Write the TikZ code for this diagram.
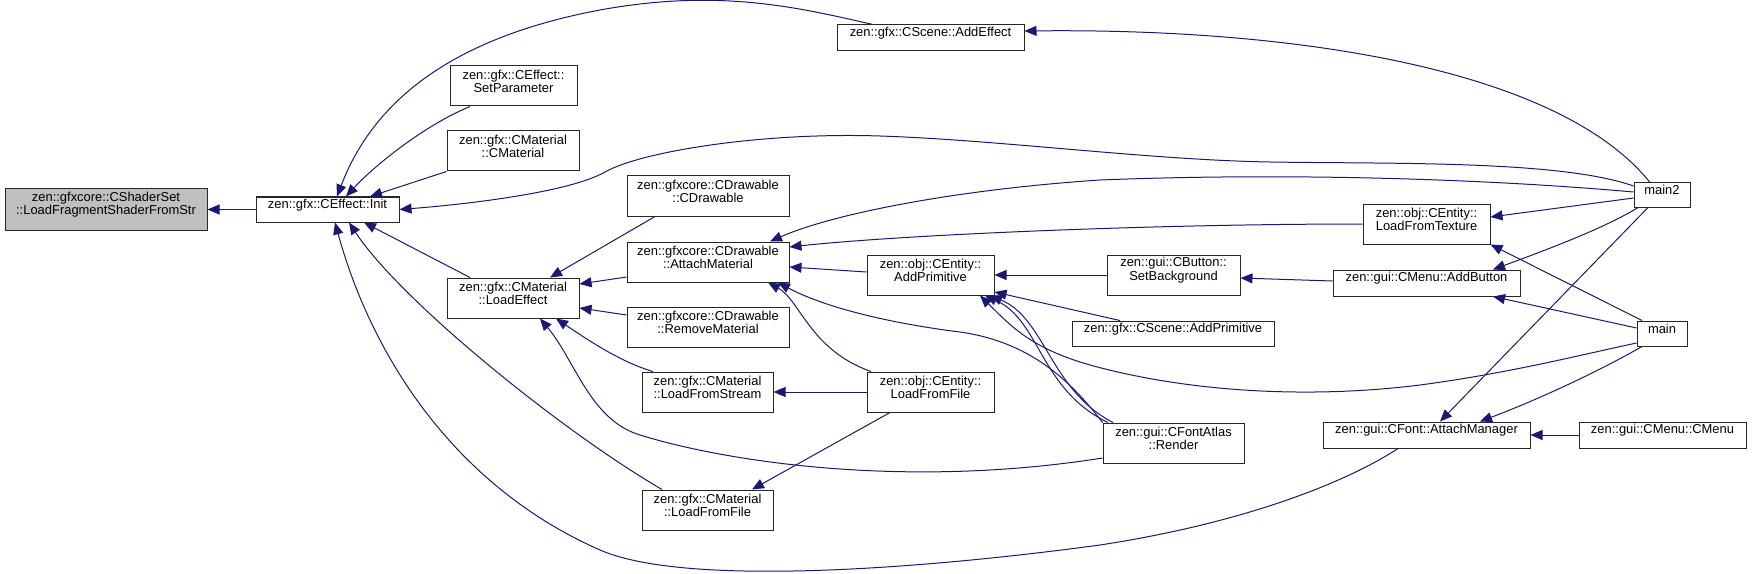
\documentclass[tikz,border=0pt]{standalone}
\usepackage{fontspec}
\setmainfont{Liberation Sans}
\usetikzlibrary{arrows.meta,fit}
\definecolor{edgecol}{RGB}{25,25,112}
\definecolor{shadefill}{RGB}{191,191,191}
\tikzset{
  box/.style={draw=black!85, line width=0.75pt, fill=white, inner sep=0pt, align=center, font=\fontsize{9.7}{10}\selectfont},
  edge/.style={draw=edgecol, line width=0.75pt, {Triangle[length=9pt,width=7.5pt]}-},
}
\begin{document}
\begin{tikzpicture}[x=0.75pt, y=-0.75pt]
\useasboundingbox (0,0) rectangle (1752,574);
% nodes
\node[box, fill=shadefill, align=left, fit={(5,189)(207,230)}] (shader) {zen::gfxcore::CShaderSet\\::LoadFragmentShaderFromStr};
\node[box, fit={(256,197)(399,222)}] (init) {zen::gfx::CEffect::Init};
\node[box, fit={(837,25)(1024,51)}] (addeffect) {zen::gfx::CScene::AddEffect};
\node[box, fit={(450,66)(577,106)}] (setparam) {zen::gfx::CEffect::\\SetParameter};
\node[box, fit={(447,131)(579,171)}] (cmaterial) {zen::gfx::CMaterial\\::CMaterial};
\node[box, fit={(447,278)(579,318)}] (loadeffect) {zen::gfx::CMaterial\\::LoadEffect};
\node[box, fit={(627,176)(789,216)}] (cdrawable) {zen::gfxcore::CDrawable\\::CDrawable};
\node[box, fit={(627,242)(789,282)}] (attach) {zen::gfxcore::CDrawable\\::AttachMaterial};
\node[box, fit={(627,307)(789,347)}] (remove) {zen::gfxcore::CDrawable\\::RemoveMaterial};
\node[box, fit={(642,372)(773,412)}] (lfstream) {zen::gfx::CMaterial\\::LoadFromStream};
\node[box, fit={(642,490)(773,530)}] (mlfile) {zen::gfx::CMaterial\\::LoadFromFile};
\node[box, fit={(867,255)(994,295)}] (addprim) {zen::obj::CEntity::\\AddPrimitive};
\node[box, fit={(867,372)(994,412)}] (elfile) {zen::obj::CEntity::\\LoadFromFile};
\node[box, fit={(1107,255)(1240,295)}] (setbg) {zen::gui::CButton::\\SetBackground};
\node[box, fit={(1072,321)(1274,346)}] (saddprim) {zen::gfx::CScene::AddPrimitive};
\node[box, fit={(1103,423)(1244,463)}] (render) {zen::gui::CFontAtlas\\::Render};
\node[box, fit={(1363,204)(1490,244)}] (lftex) {zen::obj::CEntity::\\LoadFromTexture};
\node[box, fit={(1333,270)(1520,296)}] (addbtn) {zen::gui::CMenu::AddButton};
\node[box, fit={(1323,422)(1530,448)}] (attmgr) {zen::gui::CFont::AttachManager};
\node[box, fit={(1579,422)(1746,448)}] (cmenu) {zen::gui::CMenu::CMenu};
\node[box, fit={(1634,183)(1690,207)}] (main2) {main2};
\node[box, fit={(1637,321)(1687,346)}] (main) {main};
% edges
\draw[edge] (shader.east) -- (init.west);
\draw[edge] (init.north -| 337,0) .. controls (370,110) and (440,40) .. (600,10) .. controls (720,-12) and (800,8) .. (addeffect.north -| 873,0);
\draw[edge] (init.north -| 346,0) .. controls (375,165) and (425,125) .. (setparam.south -| 470,0);
\draw[edge] (init.north -| 370,0) -- (cmaterial.south west);
\draw[edge] (init.east) .. controls (470,204) and (570,192) .. (605,172) .. controls (640,152) and (760,132) .. (880,136) .. controls (1000,140) and (1150,160) .. (1270,162) .. controls (1390,164) and (1560,160) .. (main2.west |- 0,186);
\draw[edge] (init.south -| 364,0) -- (loadeffect.north -| 470,0);
\draw[edge] (init.south -| 349,0) .. controls (400,300) and (560,430) .. (mlfile.north -| 662,0);
\draw[edge] (init.south -| 335,0) .. controls (370,350) and (450,484) .. (600,550) .. controls (680,585) and (900,572) .. (1100,545) .. controls (1250,522) and (1350,480) .. (attmgr.south -| 1398,0);
\draw[edge] (loadeffect.north -| 550,0) -- (cdrawable.south -| 655,0);
\draw[edge] (loadeffect.east |- 0,284) -- (attach.west |- 0,277);
\draw[edge] (loadeffect.east |- 0,308) -- (remove.west |- 0,315);
\draw[edge] (loadeffect.south -| 556,0) .. controls (585,338) and (620,362) .. (lfstream.north -| 653,0);
\draw[edge] (loadeffect.south -| 540,0) .. controls (575,360) and (590,420) .. (640,435) .. controls (720,460) and (900,490) .. (render.west |- 0,458);
\draw[edge] (lfstream.east) -- (elfile.west);
\draw[edge] (mlfile.north -| 752,0) -- (elfile.south -| 890,0);
\draw[edge] (attach.south -| 768,0) .. controls (800,300) and (810,350) .. (elfile.north -| 871,0);
\draw[edge] (attach.south -| 778,0) .. controls (820,305) and (880,322) .. (960,332) .. controls (1030,342) and (1070,380) .. (render.north west);
\draw[edge] (attach.east |- 0,267) -- (addprim.west |- 0,272);
\draw[edge] (attach.east |- 0,247) .. controls (900,235) and (1150,224) .. (lftex.west |- 0,224);
\draw[edge] (attach.north -| 770,0) .. controls (830,215) and (950,190) .. (1100,180) .. controls (1300,172) and (1500,180) .. (main2.west |- 0,192);
\draw[edge] (addprim.east) -- (setbg.west);
\draw[edge] (addprim.east |- 0,292) -- (saddprim.north -| 1120,0);
\draw[edge] (addprim.south -| 980,0) .. controls (1010,325) and (1030,348) .. (1090,365) .. controls (1180,390) and (1300,400) .. (1420,385) .. controls (1510,373) and (1580,355) .. (main.west |- 0,343);
\draw[edge] (addprim.south -| 985,0) .. controls (1040,320) and (1040,390) .. (render.north -| 1108,0);
\draw[edge] (addprim.south -| 990,0) .. controls (1045,318) and (1050,390) .. (render.north -| 1113,0);
\draw[edge] (setbg.east |- 0,278) -- (addbtn.west |- 0,281);
\draw[edge] (lftex.east |- 0,217) -- (main2.west |- 0,198);
\draw[edge] (lftex.south east) -- (main.north -| 1642,0);
\draw[edge] (addbtn.north -| 1493,0) .. controls (1560,245) and (1610,225) .. (main2.south -| 1638,0);
\draw[edge] (addbtn.south -| 1493,0) -- (main.west |- 0,328);
\draw[edge] (attmgr.north -| 1440,0) -- (main2.south -| 1648,0);
\draw[edge] (attmgr.north -| 1480,0) .. controls (1550,395) and (1610,365) .. (main.south -| 1642,0);
\draw[edge] (attmgr.east) -- (cmenu.west);
\draw[edge] (addeffect.east |- 0,31) .. controls (1300,28) and (1560,70) .. (main2.north -| 1650,0);
\end{tikzpicture}
\end{document}
